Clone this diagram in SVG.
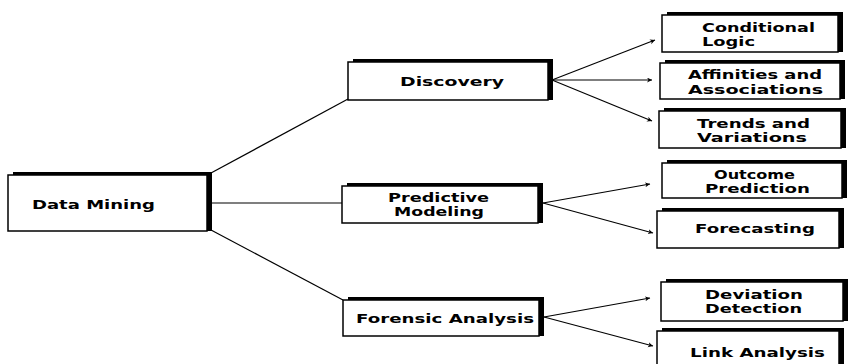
<svg xmlns="http://www.w3.org/2000/svg" width="856" height="364" viewBox="0 0 856 364">
<defs>
<style>
.sh{fill:#000}
.bx{fill:#fff;stroke:#000;stroke-width:1.5}
.t{font-family:"DejaVu Sans","Liberation Sans",Arial,sans-serif;font-weight:bold;font-size:13px;fill:#000}
.ln{stroke:#000;stroke-width:1.2;fill:none}
</style>
<marker id="ah" markerWidth="8" markerHeight="8" refX="5" refY="2.5" orient="auto" markerUnits="userSpaceOnUse">
<path d="M0,0 L5,2.5 L0,5 L1.5,2.5 Z" fill="#000"/>
</marker>
</defs>
<rect width="856" height="364" fill="#fff"/>
<g id="connectors">
<line class="ln" x1="211" y1="173" x2="348" y2="99"/>
<line class="ln" x1="212" y1="203" x2="342" y2="203"/>
<line class="ln" x1="211" y1="230" x2="343" y2="300"/>
<line class="ln" x1="552" y1="80" x2="655" y2="40" marker-end="url(#ah)"/>
<line class="ln" x1="552" y1="80" x2="652" y2="80" marker-end="url(#ah)"/>
<line class="ln" x1="552" y1="80" x2="652" y2="121" marker-end="url(#ah)"/>
<line class="ln" x1="543" y1="203" x2="650" y2="184" marker-end="url(#ah)"/>
<line class="ln" x1="543" y1="203" x2="653" y2="233" marker-end="url(#ah)"/>
<line class="ln" x1="544" y1="317" x2="650" y2="298" marker-end="url(#ah)"/>
<line class="ln" x1="544" y1="317" x2="653" y2="346" marker-end="url(#ah)"/>
</g>
<g id="data-mining">
<rect class="sh" x="13" y="172" width="199" height="59"/>
<rect class="bx" x="8" y="175" width="199" height="56"/>
<text class="t" x="32" y="209" textLength="123" lengthAdjust="spacingAndGlyphs">Data Mining</text>
</g>
<g id="discovery">
<rect class="sh" x="353" y="59" width="200" height="41"/>
<rect class="bx" x="348" y="62" width="200" height="38"/>
<text class="t" x="400" y="86" textLength="104" lengthAdjust="spacingAndGlyphs">Discovery</text>
</g>
<g id="predictive-modeling">
<rect class="sh" x="347" y="183" width="196" height="40"/>
<rect class="bx" x="342" y="186" width="196" height="37"/>
<text class="t" x="388" y="202" textLength="101" lengthAdjust="spacingAndGlyphs">Predictive</text>
<text class="t" x="394" y="216" textLength="90" lengthAdjust="spacingAndGlyphs">Modeling</text>
</g>
<g id="forensic-analysis">
<rect class="sh" x="348" y="297" width="196" height="39"/>
<rect class="bx" x="343" y="300" width="196" height="36"/>
<text class="t" x="356" y="323" textLength="178" lengthAdjust="spacingAndGlyphs">Forensic Analysis</text>
</g>
<g id="conditional-logic">
<rect class="sh" x="667" y="12" width="176" height="40"/>
<rect class="bx" x="662" y="15" width="176" height="37"/>
<text class="t" x="702" y="32" textLength="113" lengthAdjust="spacingAndGlyphs">Conditional</text>
<text class="t" x="702" y="46" textLength="53" lengthAdjust="spacingAndGlyphs">Logic</text>
</g>
<g id="affinities">
<rect class="sh" x="665" y="60" width="180" height="39"/>
<rect class="bx" x="660" y="63" width="180" height="36"/>
<text class="t" x="688" y="79" textLength="134" lengthAdjust="spacingAndGlyphs">Affinities and</text>
<text class="t" x="688" y="94" textLength="135" lengthAdjust="spacingAndGlyphs">Associations</text>
</g>
<g id="trends">
<rect class="sh" x="664" y="108" width="182" height="40"/>
<rect class="bx" x="659" y="111" width="182" height="37"/>
<text class="t" x="697" y="128" textLength="113" lengthAdjust="spacingAndGlyphs">Trends and</text>
<text class="t" x="697" y="142" textLength="110" lengthAdjust="spacingAndGlyphs">Variations</text>
</g>
<g id="outcome-prediction">
<rect class="sh" x="667" y="160" width="180" height="38"/>
<rect class="bx" x="662" y="163" width="180" height="35"/>
<text class="t" x="714" y="179" textLength="81" lengthAdjust="spacingAndGlyphs">Outcome</text>
<text class="t" x="705" y="193" textLength="105" lengthAdjust="spacingAndGlyphs">Prediction</text>
</g>
<g id="forecasting">
<rect class="sh" x="662" y="208" width="182" height="40"/>
<rect class="bx" x="657" y="211" width="182" height="37"/>
<text class="t" x="695" y="233" textLength="120" lengthAdjust="spacingAndGlyphs">Forecasting</text>
</g>
<g id="deviation-detection">
<rect class="sh" x="666" y="279" width="182" height="42"/>
<rect class="bx" x="661" y="282" width="182" height="39"/>
<text class="t" x="705" y="299" textLength="98" lengthAdjust="spacingAndGlyphs">Deviation</text>
<text class="t" x="705" y="313" textLength="97" lengthAdjust="spacingAndGlyphs">Detection</text>
</g>
<g id="link-analysis">
<rect class="sh" x="662" y="328" width="182" height="42"/>
<rect class="bx" x="657" y="331" width="182" height="39"/>
<text class="t" x="690" y="357" textLength="135" lengthAdjust="spacingAndGlyphs">Link Analysis</text>
</g>
</svg>
